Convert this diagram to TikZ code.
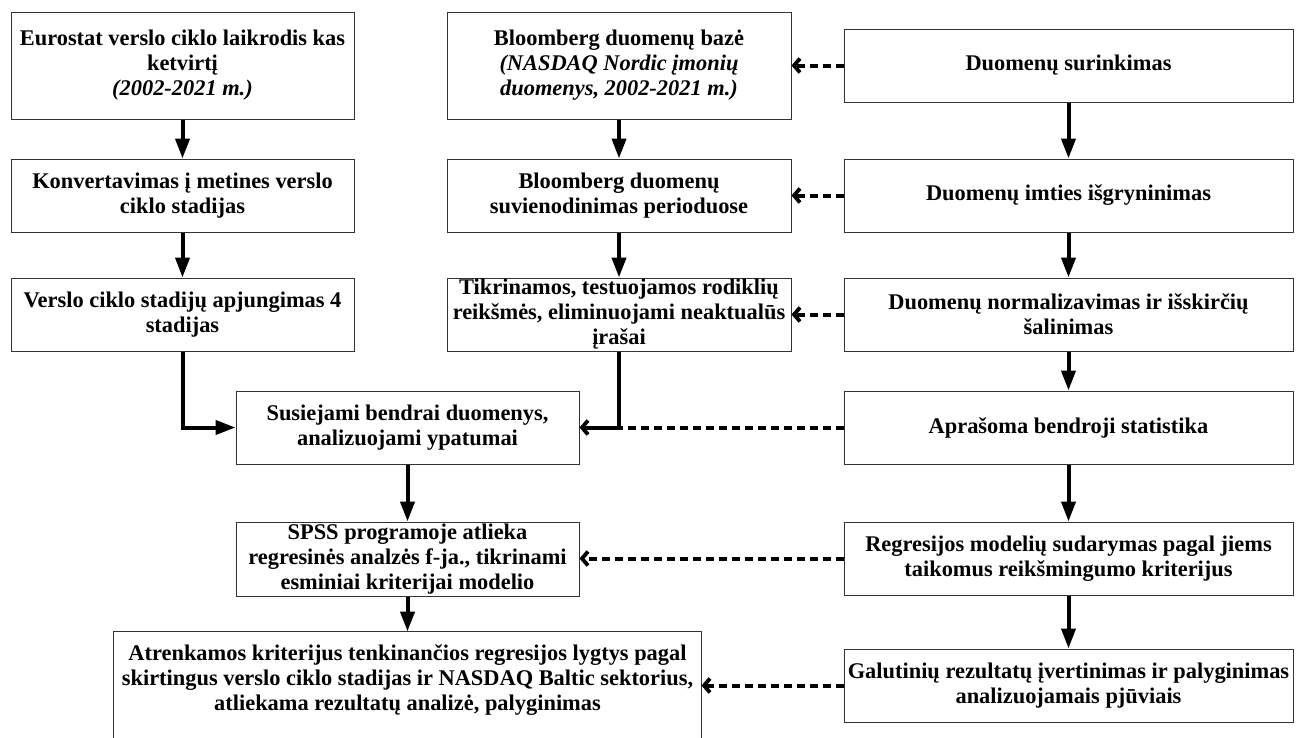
\documentclass[tikz,border=0pt]{standalone}
\usepackage{fontspec}
\setmainfont{Liberation Serif}
\usetikzlibrary{arrows.meta}
\begin{document}
\begin{tikzpicture}[x=1pt,y=-1pt,
  box/.style={draw=black!80, line width=1pt, inner sep=0pt, align=center,
    font=\fontsize{22.4}{25}\selectfont\bfseries},
  boxline/.style={draw=black!80, line width=1pt},
  lcol/.style={box, minimum width=343pt},
  rcol/.style={box, minimum width=449pt, minimum height=73pt},
  arr/.style={line width=4pt, -{Triangle[length=20pt,width=14pt]}},
  solidline/.style={line width=4pt},
  darr/.style={line width=4pt, dash pattern=on 8pt off 5pt,
    -{Straight Barb[length=6pt,width=14pt,line width=3.8pt]}}]
\useasboundingbox (0,0) rectangle (1307,737);
\fill[white] (0,0) rectangle (1307,737);

% left column
\node[lcol, minimum height=107pt] (A1) at (182.5,65.5)
  {Eurostat verslo ciklo laikrodis kas\\ketvirtį\\\textit{(2002-2021 m.)}};
\node[lcol, minimum height=73pt] (A2) at (182.5,195.5)
  {Konvertavimas į metines verslo\\ciklo stadijas};
\node[lcol, minimum height=73pt] (A3) at (182.5,314.5)
  {Verslo ciklo stadijų apjungimas 4\\stadijas};

% middle column
\node[box, minimum width=344pt, minimum height=107pt] (B1) at (619,65.5)
  {Bloomberg duomenų bazė\\\textit{(NASDAQ Nordic įmonių}\\\textit{duomenys, 2002-2021 m.)}};
\node[box, minimum width=344pt, minimum height=73pt] (B2) at (619,195.5)
  {Bloomberg duomenų\\suvienodinimas perioduose};
\node[box, minimum width=344pt, minimum height=73pt] (B3) at (619,314.5)
  {Tikrinamos, testuojamos rodiklių\\reikšmės, eliminuojami neaktualūs\\įrašai};

% right column
\node[rcol] (R1) at (1068.5,65.5) {Duomenų surinkimas};
\node[rcol] (R2) at (1068.5,195.5) {Duomenų imties išgryninimas};
\node[rcol] (R3) at (1068.5,314.5) {Duomenų normalizavimas ir išskirčių\\šalinimas};
\node[rcol] (R4) at (1068.5,427.5) {Aprašoma bendroji statistika};
\node[rcol] (R5) at (1068.5,558.5) {Regresijos modelių sudarymas pagal jiems\\taikomus reikšmingumo kriterijus};
\node[rcol] (R6) at (1068.5,685.5) {Galutinių rezultatų įvertinimas ir palyginimas\\analizuojamais pjūviais};

% lower middle
\node[lcol, minimum height=73pt] (S) at (407.5,427.5)
  {Susiejami bendrai duomenys,\\analizuojami ypatumai};
\node[lcol, minimum height=74pt] (P) at (407.5,559)
  {SPSS programoje atlieka\\regresinės analzės f-ja., tikrinami\\esminiai kriterijai modelio};
\node[box, draw=none, minimum width=587pt, minimum height=96pt] (F) at (407.5,680)
  {Atrenkamos kriterijus tenkinančios regresijos lygtys pagal\\skirtingus verslo ciklo stadijas ir NASDAQ Baltic sektorius,\\atliekama rezultatų analizė, palyginimas};
\draw[boxline] ([yshift=-12pt]F.south west) -- (F.north west) -- (F.north east) -- ([yshift=-12pt]F.south east);

% solid arrows
\draw[arr] (A1.south) -- (A2.north);
\draw[arr] (A2.south) -- (A3.north);
\draw[arr] (B1.south) -- (B2.north);
\draw[arr] (B2.south) -- (B3.north);
\draw[arr] (R1.south) -- (R2.north);
\draw[arr] (R2.south) -- (R3.north);
\draw[arr] (R3.south) -- (R4.north);
\draw[arr] (R4.south) -- (R5.north);
\draw[arr] (R5.south) -- (R6.north);
\draw[arr] (A3.south) |- (S.west);
\draw[solidline, shorten >=3pt] (B3.south) |- (S.east);
\draw[arr] (S.south) -- (P.north);
\draw[arr] (P.south) -- (F.north);

% dashed arrows
\draw[darr] (R1.west) -- (B1.east);
\draw[darr] (R2.west) -- (B2.east);
\draw[darr] (R3.west) -- (B3.east);
\draw[darr] (R4.west) -- (S.east);
\draw[darr] (R5.west) -- (R5.west -| P.east);
\draw[darr] (R6.west) -- (R6.west -| F.east);
\end{tikzpicture}
\end{document}
